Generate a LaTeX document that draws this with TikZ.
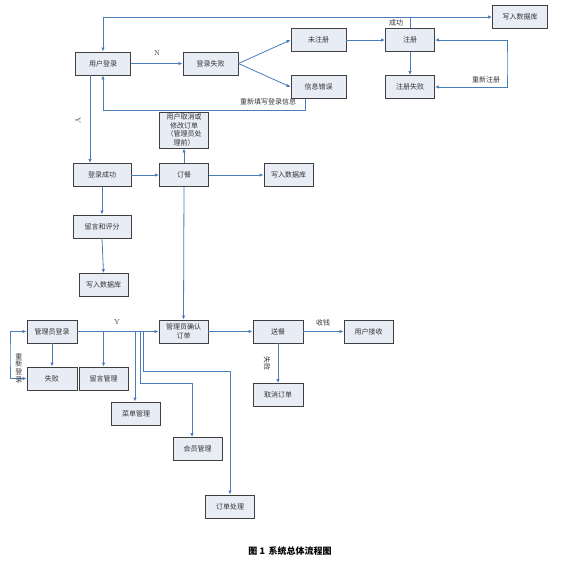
\documentclass[tikz,border=0pt]{standalone}
\usepackage{fontspec}
\newfontfamily\cjk{Noto Sans CJK SC}
\usetikzlibrary{positioning,arrows.meta,calc}
\definecolor{boxfill}{HTML}{E8EDF5}
\definecolor{boxdraw}{HTML}{404040}
\definecolor{flow}{HTML}{4A7EBB}
\definecolor{txt}{HTML}{333333}

\begin{document}
\begin{tikzpicture}[x=1pt, y=-1pt,
        stepbox/.style={rectangle, draw=boxdraw, fill=boxfill,
          line width=0.9pt, minimum width=49pt, minimum height=23pt,
        inner sep=1pt, font=\cjk\fontsize{7}{8.5}\selectfont, text=txt, align=center},
        widebox/.style={stepbox, minimum width=55pt},
        arr/.style={-{Latex[length=4pt,width=3.5pt]}, flow, line width=0.8pt},
        dblarr/.style={{Latex[length=4pt,width=3.5pt]}-{Latex[length=4pt,width=3.5pt]},
        flow, line width=0.8pt},
        lbl/.style={font=\cjk\fontsize{7}{8}\selectfont, text=txt, inner sep=0pt},
      ]
      \useasboundingbox (0,0) rectangle (584,563);

      % =================== USER LOGIN / REGISTER ===================
      \node[widebox] (login) at (103,63.5) {用户登录};
      \node[widebox] (loginfail) at (210.5,63.5) {登录失败};
      \node[widebox] (unreg) at (318.5,40) {未注册};
      \node[widebox] (infoerr) at (318.5,87) {信息错误};
      \node[stepbox] (reg) at (410,40) {注册};
      \node[stepbox] (regfail) at (410,87) {注册失败};
      \node[widebox] (dbtop) at (520,17) {写入数据库};

      \coordinate (topj) at (410,17);
      \draw[arr] (reg.north) -- (topj) -- (dbtop.west);
      \draw[arr] (topj) -| (login.north);
      \node[lbl] (okl) at (396,23) {成功};

      \draw[arr] (login.east) -- (loginfail.west);
      \node[lbl, font=\fontsize{7}{8}\selectfont] (nl) at (157,53) {N};
      \draw[arr] (loginfail.east) -- (unreg.west);
      \draw[arr] (loginfail.east) -- (infoerr.west);
      \draw[arr] (unreg.east) -- (reg.west);
      \draw[arr] (reg.south) -- (regfail.north);

      \coordinate (regloop) at (507,63.5);
      \draw[dblarr] (reg.east) -| (regloop) |- (regfail.east);
      \node[lbl] (reregl) at (486,80) {重新注册};

      \coordinate (retry) at (305,110);
      \draw[arr] (infoerr.south -| retry) -- (retry) -| (login.south);
      \node[lbl] (retryl) at (268,102) {重新填写登录信息};

      % =================== ORDERING ===================
      \node[widebox, minimum width=58pt] (loginok) at (102,175) {登录成功};
      \node[stepbox, minimum height=36pt, inner sep=0pt] (cancel) at (184,130)
      {用户取消或\\修改订单\\（管理员处\\理前）};
      \node[stepbox] (order) at (184,175) {订餐};
      \node[stepbox] (dbmid) at (288.5,175) {写入数据库};
      \node[widebox, minimum width=58pt] (review) at (102,226.5) {留言和评分};
      \node[stepbox] (dblow) at (103.5,285) {写入数据库};

      \draw[arr] ([xshift=-13pt]login.south) -- ([xshift=-13pt]login.south |- loginok.north);
      \node[lbl, font=\fontsize{7}{8}\selectfont, rotate=-90] (yl1) at (78,120) {Y};
      \draw[arr] (loginok.east) -- (order.west);
      \draw[arr] (order.north) -- (cancel.south);
      \draw[arr] (order.east) -- (dbmid.west);
      \draw[arr] (loginok.south) -- (review.north);
      \draw[arr] (review.south) -- (dblow.north);

      % =================== ADMIN ===================
      \node[stepbox, minimum width=50pt] (adminlogin) at (52,331.5) {管理员登录};
      \node[stepbox, minimum width=50pt] (adminfail) at (52,378.5) {失败};
      \node[stepbox] (msgmgr) at (103.5,378.5) {留言管理};
      \node[stepbox] (confirm) at (183.5,331.5) {管理员确认\\订单};
      \node[stepbox, minimum width=50pt] (deliver) at (278,331.5) {送餐};
      \node[stepbox] (receive) at (368.5,331.5) {用户接收};
      \node[stepbox, minimum width=50pt] (cancelorder) at (278,395) {取消订单};
      \node[stepbox] (menumgr) at (136,413.5) {菜单管理};
      \node[stepbox] (member) at (197.5,449) {会员管理};
      \node[stepbox] (orderproc) at (230,506.5) {订单处理};

      \draw[arr] (order.south) -- (confirm.north);
      \draw[arr] (adminlogin.east) -- (confirm.west);
      \node[lbl, font=\fontsize{7}{8}\selectfont] (yl2) at (117,322) {Y};
      \draw[arr] (adminlogin.south) -- (adminfail.north);

      \coordinate (relog) at (10,355);
      \draw[dblarr] (adminlogin.west) -| (relog) |- (adminfail.west);
      \node[lbl, align=center, font=\cjk\fontsize{7}{7.6}\selectfont] (relogl) at (19,368)
      {重\\新\\登\\录};

      % branches off the admin line
      \coordinate (b1) at (135,331.5);
      \coordinate (b2) at (140,331.5);
      \coordinate (b3) at (143,331.5);
      \coordinate (b2turn) at (140,383);
      \coordinate (b3turn) at (143,371);
      \draw[arr] (msgmgr.north |- adminlogin.east) -- (msgmgr.north);
      \draw[arr] (b1) -- (b1 |- menumgr.north);
      \draw[arr] (b2) -- (b2turn) -| ([xshift=-5.5pt]member.north);
      \draw[arr] (b3) -- (b3turn) -| (orderproc.north);

      \draw[arr] (confirm.east) -- (deliver.west);
      \draw[arr] (deliver.east) -- (receive.west);
      \node[lbl] (moneyl) at (323,323) {收钱};
      \draw[arr] (deliver.south) -- (cancelorder.north);
      \node[lbl, rotate=-90] (faill) at (267,363) {失败};

      % caption
      \node[font=\cjk\bfseries\fontsize{9}{10}\selectfont, inner sep=0pt] (cap) at (290,551)
      {图 1\, 系统总体流程图};

    \end{tikzpicture}
\end{document}
